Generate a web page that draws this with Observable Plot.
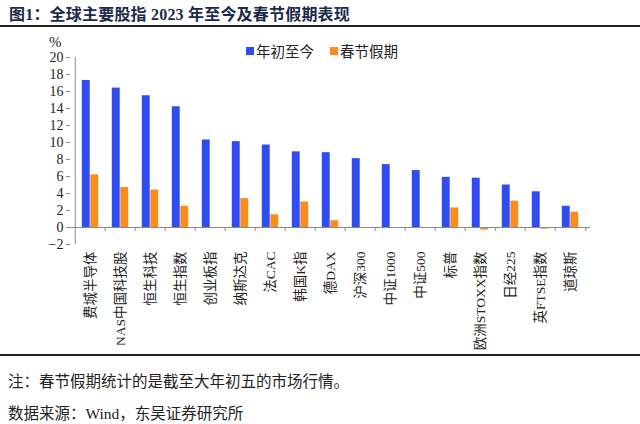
<!DOCTYPE html>
<html>
<head>
<meta charset="utf-8">
<script src="https://cdn.jsdelivr.net/npm/d3@7"></script>
<script src="https://cdn.jsdelivr.net/npm/@observablehq/plot@0.6"></script>
<style>
  html, body { margin: 0; padding: 0; background: #fff; }
  #page { position: relative; width: 640px; height: 424px; overflow: hidden; font-family: 'Liberation Serif', 'Noto Sans CJK SC', serif; color: #222; }
  #title { position: absolute; left: 9px; top: 1px; font-size: 16px; font-weight: bold; color: #1c2a4a; white-space: nowrap; letter-spacing: 0.2px; }
  .rule { position: absolute; left: 0; width: 640px; height: 2px; background: #222; }
  #chart { position: absolute; left: 0; top: 30px; }
  #legend { position: absolute; top: 40px; left: 246px; font-size: 14.5px; white-space: nowrap; display: flex; align-items: center; }
  #legend .sw { display: inline-block; width: 8px; height: 8px; margin-right: 2px; }
  #legend .item { display: flex; align-items: center; margin-right: 16px; }
  #pct { position: absolute; left: 49px; top: 34px; font-size: 15px; }
  .foot { position: absolute; left: 8px; font-size: 15.5px; white-space: nowrap; }
</style>
</head>
<body>
<div id="page">
  <div id="title"></div>
  <div class="rule" style="top:25px"></div>
  <div id="pct">%</div>
  <div id="chart"></div>
  <div id="legend"></div>
  <div class="rule" style="top:354px"></div>
  <div class="foot" id="note" style="top:369px"></div>
  <div class="foot" id="source" style="top:401px"></div>
</div>
<script>
const titleText = "图1：全球主要股指 2023 年至今及春节假期表现";
const noteText = "注：春节假期统计的是截至大年初五的市场行情。";
const sourceText = "数据来源：Wind，东吴证券研究所";

const categories = ["费城半导体","NAS中国科技股","恒生科技","恒生指数","创业板指","纳斯达克","法CAC","韩国K指","德DAX","沪深300","中证1000","中证500","标普","欧洲STOXX指数","日经225","英FTSE指数","道琼斯"];
const ytd = [17.3, 16.4, 15.5, 14.2, 10.3, 10.1, 9.7, 8.9, 8.8, 8.1, 7.4, 6.7, 5.9, 5.8, 5.0, 4.2, 2.5];
const holiday = [6.2, 4.7, 4.4, 2.5, null, 3.4, 1.5, 3.0, 0.8, null, null, null, 2.3, -0.3, 3.1, -0.2, 1.8];
const seriesNames = ["年初至今", "春节假期"];
const seriesColors = ["#2F4CF0", "#FA8D1E"];
const yTicks = [-2, 0, 2, 4, 6, 8, 10, 12, 14, 16, 18, 20];

document.getElementById("title").textContent = titleText;
document.getElementById("note").textContent = noteText;
document.getElementById("source").textContent = sourceText;

const legend = document.getElementById("legend");
seriesNames.forEach((n, i) => {
  const it = document.createElement("span");
  it.className = "item";
  const sw = document.createElement("span");
  sw.className = "sw";
  sw.style.background = seriesColors[i];
  it.appendChild(sw);
  it.appendChild(document.createTextNode(n));
  legend.appendChild(it);
});

const rowsA = categories.map((c, i) => ({cat: c, value: ytd[i]}));
const rowsB = categories.map((c, i) => ({cat: c, value: holiday[i]})).filter(d => d.value != null);

const W = 640, mL = 70, mR = 50;
const step = (W - mL - mR) / categories.length;
const bw = 8.5;

const chart = Plot.plot({
  width: W,
  height: 325,
  marginLeft: mL,
  marginRight: mR,
  marginTop: 27,
  marginBottom: 111,
  style: {fontFamily: "'Liberation Serif','Noto Sans CJK SC',serif", fontSize: "13px", color: "#222", background: "transparent"},
  x: {domain: categories, padding: 0},
  y: {domain: [-2, 20]},
  marks: [
    Plot.barY(rowsA, {x: "cat", y: "value", fill: seriesColors[0], insetLeft: step / 2 - bw, insetRight: step / 2}),
    Plot.barY(rowsB, {x: "cat", y: "value", fill: seriesColors[1], insetLeft: step / 2, insetRight: step / 2 - bw}),
    Plot.ruleY([0], {stroke: "#8a8a8a"}),
    Plot.ruleX([categories[0]], {dx: -step / 2, y1: -2, y2: 20, stroke: "#8a8a8a"}),
    Plot.ruleX(categories.slice(1), {dx: -step / 2, y1: 0, y2: -0.47, stroke: "#8a8a8a"}),
    Plot.ruleX([categories[categories.length - 1]], {dx: step / 2, y1: 0, y2: -0.47, stroke: "#8a8a8a"}),
    Plot.axisY({ticks: yTicks, tickSize: 4, tickPadding: 3, stroke: "#8a8a8a", fill: "#222", fontSize: 14, label: null}),
    Plot.axisX({tickSize: 0, tickRotate: -90, tickPadding: 7, fontSize: 13.5, fill: "#222", label: null})
  ]
});
document.getElementById("chart").appendChild(chart);
</script>
</body>
</html>
